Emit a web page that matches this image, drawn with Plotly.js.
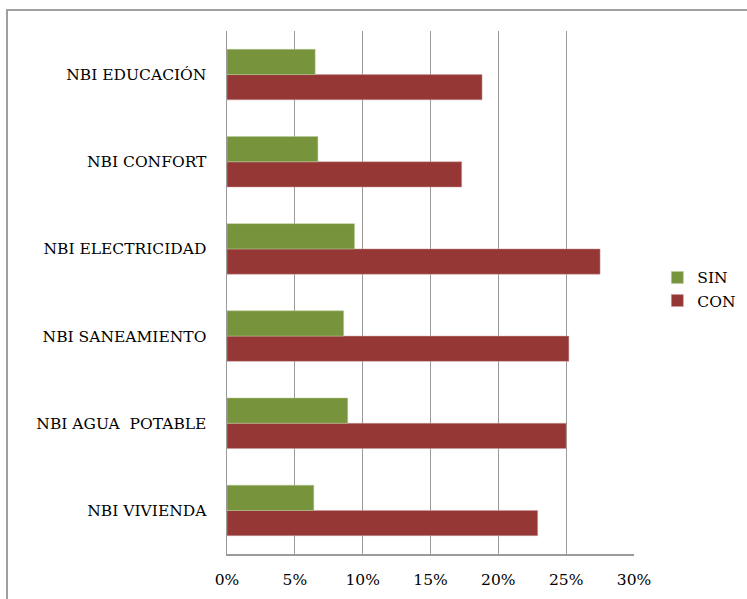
<!DOCTYPE html>
<html>
<head>
<meta charset="utf-8">
<script src="https://cdn.plot.ly/plotly-3.0.1.min.js"></script>
<style>
html,body{margin:0;padding:0;background:#fff;}
#wrap{position:relative;width:747px;height:599px;overflow:hidden;}
#chart{position:absolute;left:0;top:0;width:747px;height:599px;}
#frame{position:absolute;left:6px;top:9px;width:800px;height:700px;border:2px solid #a0a0a0;pointer-events:none;box-sizing:border-box;}
</style>
</head>
<body>
<div id="wrap"><div id="chart"></div><div id="frame"></div></div>
<script>
const categories = ['NBI VIVIENDA', 'NBI AGUA  POTABLE', 'NBI SANEAMIENTO', 'NBI ELECTRICIDAD', 'NBI CONFORT', 'NBI EDUCACIÓN'];
const sinValues = [0.064, 0.089, 0.086, 0.094, 0.067, 0.065];
const conValues = [0.229, 0.250, 0.252, 0.275, 0.173, 0.188];
const tickVals = [0, 0.05, 0.10, 0.15, 0.20, 0.25, 0.30];
const tickText = ['0%', '5%', '10%', '15%', '20%', '25%', '30%'];

const font = {family: 'DejaVu Serif', size: 15.5, color: '#000'};

const traces = [
  {type: 'bar', orientation: 'h', name: 'CON', y: categories, x: conValues,
   marker: {color: '#953735', line: {color: '#c9a0a0', width: 0.5}}},
  {type: 'bar', orientation: 'h', name: 'SIN', y: categories, x: sinValues,
   marker: {color: '#77933C', line: {color: '#b9cc99', width: 0.5}}}
];

const layout = {
  width: 747, height: 599,
  margin: {l: 227, r: 113, t: 31, b: 45, autoexpand: false},
  paper_bgcolor: 'rgba(0,0,0,0)', plot_bgcolor: '#fff',
  font: font,
  barmode: 'group', bargap: 0.42, bargroupgap: 0,
  showlegend: true,
  legend: {xref: 'container', yref: 'container', x: 0.88, y: 0.517, xanchor: 'left', yanchor: 'middle',
           traceorder: 'reversed', font: font, itemwidth: 30, tracegroupgap: 0,
           bgcolor: 'rgba(0,0,0,0)'},
  xaxis: {range: [0, 0.30], tickvals: tickVals, ticktext: tickText,
          showgrid: true, gridcolor: '#9a9a9a', gridwidth: 1.2,
          showline: true, linecolor: '#9a9a9a', linewidth: 1.5,
          ticks: 'outside', ticklen: 11, tickcolor: 'rgba(0,0,0,0)',
          zeroline: false, fixedrange: true, automargin: false},
  yaxis: {type: 'category', showgrid: false,
          showline: true, linecolor: '#9a9a9a', linewidth: 1.5,
          ticks: 'outside', ticklen: 16, tickcolor: 'rgba(0,0,0,0)',
          fixedrange: true, automargin: false}
};

Plotly.newPlot('chart', traces, layout, {displayModeBar: false, staticPlot: true});
</script>
</body>
</html>
